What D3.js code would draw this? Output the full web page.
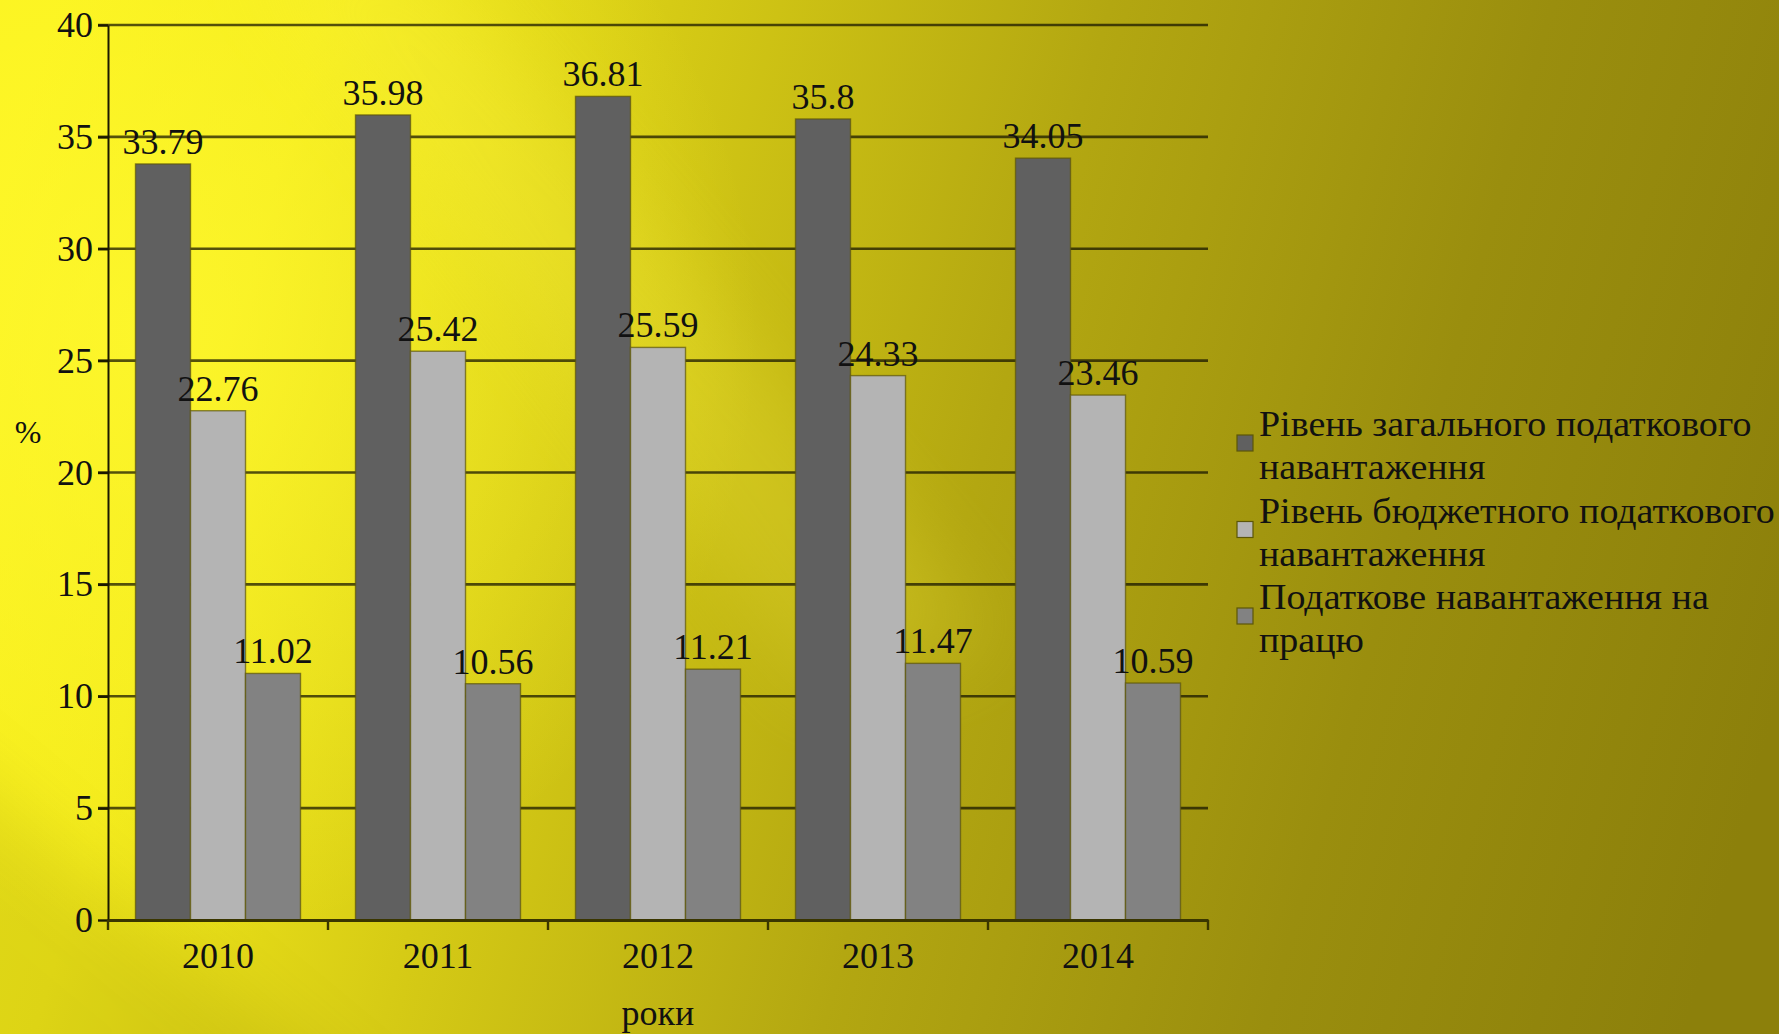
<!DOCTYPE html>
<html>
<head>
<meta charset="utf-8">
<script src="https://cdn.jsdelivr.net/npm/d3@7"></script>
<style>
  html, body { margin: 0; padding: 0; overflow: hidden; background: #b0a412; }
  svg text { font-family: "Liberation Serif", "DejaVu Serif", serif; fill: #111; }
</style>
</head>
<body>
<svg id="chart" width="1779" height="1034"></svg>
<script>
// Tax burden indicators, %, by year
const years = ["2010", "2011", "2012", "2013", "2014"];
const seriesNames = [
  ["Рівень загального податкового", "навантаження"],
  ["Рівень бюджетного податкового", "навантаження"],
  ["Податкове навантаження на", "працю"]
];
const generalBurden = [33.79, 35.98, 36.81, 35.8, 34.05];
const budgetBurden = [22.76, 25.42, 25.59, 24.33, 23.46];
const laborBurden = [11.02, 10.56, 11.21, 11.47, 10.59];
const yTicks = [0, 5, 10, 15, 20, 25, 30, 35, 40];
const yTitle = "%";
const xTitle = "роки";

const seriesValues = [generalBurden, budgetBurden, laborBurden];
const seriesColors = ["#606060", "#b4b4b4", "#828282"];

const W = 1779, H = 1034;
const svg = d3.select("#chart");
const defs = svg.append("defs");

// ---- background: yellow-to-olive sheen with soft diagonal streaks ----
const base = defs.append("linearGradient").attr("id", "bgBase")
  .attr("gradientUnits", "userSpaceOnUse")
  .attr("x1", 0).attr("y1", 200).attr("x2", W).attr("y2", 700);
[[0, "#fbf31d"], [0.14, "#f3ea1a"], [0.32, "#d6cb15"], [0.55, "#b3a711"], [0.78, "#9a8e0e"], [1, "#8c800b"]]
  .forEach(([o, c]) => base.append("stop").attr("offset", o).attr("stop-color", c));

const soft = defs.append("filter").attr("id", "soft")
  .attr("x", "-20%").attr("y", "-20%").attr("width", "140%").attr("height", "140%");
soft.append("feGaussianBlur").attr("stdDeviation", 40);

const glow = defs.append("radialGradient").attr("id", "glow")
  .attr("gradientUnits", "userSpaceOnUse")
  .attr("cx", 140).attr("cy", 330).attr("r", 620);
glow.append("stop").attr("offset", 0).attr("stop-color", "#fff830").attr("stop-opacity", 0.75);
glow.append("stop").attr("offset", 1).attr("stop-color", "#fff830").attr("stop-opacity", 0);

svg.append("rect").attr("width", W).attr("height", H).attr("fill", "url(#bgBase)");
svg.append("rect").attr("width", W).attr("height", H).attr("fill", "url(#glow)");

// bright diagonal streak from the upper left
svg.append("polygon")
  .attr("points", "250,-50 420,-50 1000,640 820,700")
  .attr("fill", "#fff64a").attr("opacity", 0.18).attr("filter", "url(#soft)");
// darker wedge in the lower left corner
svg.append("polygon")
  .attr("points", "-100,720 -100,1134 400,1134")
  .attr("fill", "#6e6600").attr("opacity", 0.16).attr("filter", "url(#soft)");

// ---- scales ----
const plot = { left: 108, right: 1208, top: 25, bottom: 920 };
const x = d3.scaleBand().domain(years).range([plot.left, plot.right]).padding(0);
const xInner = d3.scaleBand().domain(d3.range(seriesValues.length))
  .range([0, x.bandwidth()]).paddingInner(0).paddingOuter(0.5);
const y = d3.scaleLinear().domain([0, 40]).range([plot.bottom, plot.top]);

// gridlines
svg.append("g").selectAll("line").data(yTicks.filter(t => t > 0)).join("line")
  .attr("x1", plot.left - 10).attr("x2", plot.right)
  .attr("y1", d => y(d)).attr("y2", d => y(d))
  .attr("stroke", "#141200").attr("stroke-opacity", 0.72).attr("stroke-width", 2.6);

// bars
const bars = svg.append("g");
seriesValues.forEach((vals, si) => {
  bars.append("g").selectAll("rect").data(vals).join("rect")
    .attr("x", (d, i) => x(years[i]) + xInner(si))
    .attr("width", xInner.bandwidth())
    .attr("y", d => y(d))
    .attr("height", d => y(0) - y(d))
    .attr("fill", seriesColors[si])
    .attr("stroke", "#5c5608").attr("stroke-opacity", 0.7).attr("stroke-width", 1.4);
});

// y axis
const yAxis = svg.append("g").attr("transform", `translate(${plot.left},0)`)
  .call(d3.axisLeft(y).tickValues(yTicks).tickSizeInner(10).tickSizeOuter(0).tickPadding(5));
yAxis.select(".domain").attr("stroke", "#1a1800").attr("stroke-width", 2);
yAxis.selectAll(".tick line").attr("stroke", "#1a1800").attr("stroke-width", 2.4);
yAxis.selectAll(".tick text").attr("font-size", 36).attr("font-family", "Liberation Serif").attr("fill", "#111");

// x axis
const xAxis = svg.append("g").attr("transform", `translate(0,${plot.bottom})`)
  .call(d3.axisBottom(x).tickSize(0).tickPadding(22));
xAxis.select(".domain").attr("stroke", "#3a3600").attr("stroke-width", 3.2);
xAxis.selectAll(".tick text").attr("font-size", 36).attr("font-family", "Liberation Serif").attr("fill", "#111");
// category boundary ticks
const bounds = years.map(d => x(d)).concat([x(years[years.length - 1]) + x.bandwidth()]);
xAxis.append("g").selectAll("line").data(bounds).join("line")
  .attr("x1", d => d).attr("x2", d => d).attr("y1", 0).attr("y2", 10)
  .attr("stroke", "#3a3600").attr("stroke-width", 2.4);

// value labels
const labels = svg.append("g").attr("font-size", 36).attr("text-anchor", "middle");
seriesValues.forEach((vals, si) => {
  labels.append("g").selectAll("text").data(vals).join("text")
    .attr("x", (d, i) => x(years[i]) + xInner(si) + xInner.bandwidth() / 2)
    .attr("y", d => y(d) - 10)
    .text(d => String(d));
});

// axis titles
svg.append("text").attr("x", 28).attr("y", 443).attr("text-anchor", "middle")
  .attr("font-size", 32).text(yTitle);
svg.append("text").attr("x", 658).attr("y", 1025).attr("text-anchor", "middle")
  .attr("font-size", 36).text(xTitle);

// legend: wide serif lines, stretched slightly to the legend's column width
const legend = svg.append("g").attr("transform", "translate(1237,0)");
seriesNames.forEach((lines, i) => {
  const base0 = 436 + i * 86.5;
  legend.append("rect")
    .attr("x", 0).attr("y", base0 - 1).attr("width", 16).attr("height", 16)
    .attr("fill", seriesColors[i]).attr("stroke", "#5c5608").attr("stroke-width", 1.2);
  lines.forEach((t, j) => {
    const txt = legend.append("text").attr("x", 22).attr("y", base0 + j * 43)
      .attr("font-size", 35).text(t);
    const w = txt.node().getComputedTextLength();
    txt.attr("textLength", w * 1.085).attr("lengthAdjust", "spacingAndGlyphs");
  });
});
</script>
</body>
</html>
